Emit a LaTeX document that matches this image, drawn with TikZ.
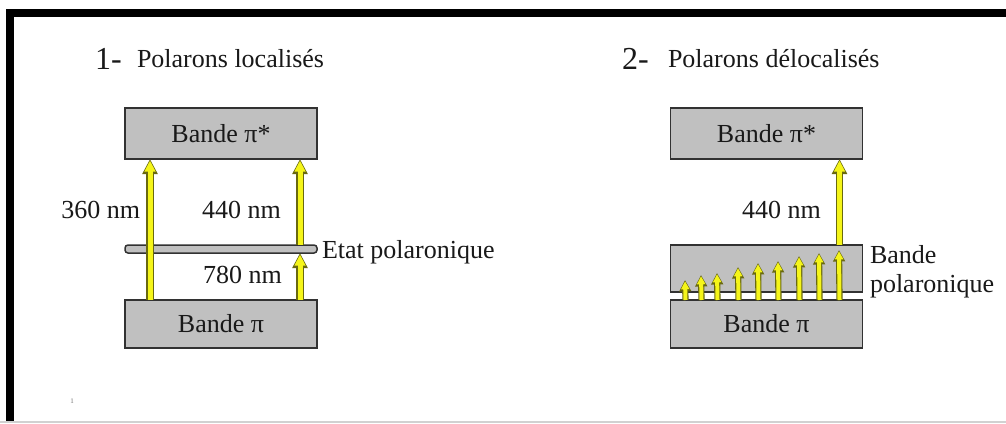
\documentclass[tikz,border=0pt]{standalone}
\usepackage{fontspec}
\setmainfont{Liberation Serif}
\usetikzlibrary{arrows.meta,calc}
\definecolor{boxfill}{RGB}{192,192,192}
\definecolor{boxedge}{RGB}{50,50,50}
\definecolor{ray}{RGB}{245,245,25}
\definecolor{rayedge}{RGB}{105,105,15}
\definecolor{ink}{RGB}{25,25,25}
\tikzset{
  txt/.style={inner sep=0pt, outer sep=0pt, text=ink, font=\fontsize{26}{30}\selectfont},
  bignum/.style={inner sep=0pt, outer sep=0pt, text=ink, font=\fontsize{32}{36}\selectfont},
  band/.style={draw=boxedge, fill=boxfill, line width=1.6pt, minimum width=192pt,
    inner sep=0pt, outer sep=0pt, text=ink, font=\fontsize{26}{30}\selectfont},
  levelbar/.style={draw=boxedge, fill=boxfill, line width=1.5pt, minimum width=192pt,
    minimum height=8pt, inner sep=0pt, outer sep=0pt, rounded corners=3pt},
  photon/.style={draw=ray, line width=5pt, -{Triangle[length=11pt,width=10.5pt]}, shorten >=1.6pt,
    preaction={draw=rayedge, line width=7.5pt, -{Triangle[length=15pt,width=14.5pt]}, shorten >=0pt}},
  photonsmall/.style={draw=ray, line width=4pt, -{Triangle[length=8pt,width=8pt]}, shorten >=1.3pt,
    preaction={draw=rayedge, line width=6.2pt, -{Triangle[length=11.5pt,width=11.5pt]}, shorten >=0pt}}
}
\begin{document}
\begin{tikzpicture}[x=1pt,y=-1pt]
\useasboundingbox (0,0) rectangle (1006,423);
\fill[white] (0,0) rectangle (1006,423);
% frame
\fill[black] (6,9) rectangle (1006,17);
\fill[black] (6,9) rectangle (14,421);
\fill[black!18] (0,421) rectangle (1006,423);

% titles
\node[bignum, anchor=base west] (n1) at (95,69) {1-};
\node[txt, anchor=base west] (t1) at (137,67) {Polarons localisés};
\node[bignum, anchor=base west] (n2) at (622,69) {2-};
\node[txt, anchor=base west] (t2) at (668,67) {Polarons délocalisés};

% left diagram
\node[band, minimum height=51pt] (topL) at (221,133.5) {Bande π*};
\node[band, minimum height=48pt] (botL) at (221,324) {Bande π};
\node[levelbar] (etat) at (221,249) {};

\draw[photon] ($(botL.north west)+(25,0)$) -- ($(topL.south west)+(25,0)$);
\draw[photon] ($(botL.north west)+(175,0)$) -- ($(etat.south west)+(175,0)$);
\draw[photon] ($(etat.north west)+(175,0)$) -- ($(topL.south west)+(175,0)$);

\node[txt, anchor=base east] (l360) at (140,218) {360 nm};
\node[txt, anchor=base west] (l440a) at (202,218) {440 nm};
\node[txt, anchor=base west] (l780) at (203,283) {780 nm};
\node[txt, anchor=base west] (letat) at (322,258) {Etat polaronique};

% right diagram
\node[band, minimum height=51pt] (topR) at (766.5,133.5) {Bande π*};
\node[band, minimum height=47pt] (polR) at (766.5,268.5) {};
\node[band, minimum height=48pt] (botR) at (766.5,324) {Bande π};

\draw[photon] ($(polR.north west)+(169,0)$) -- ($(topR.south west)+(169,0)$);
\foreach \i/\dx/\tip in {1/15/280,2/31/275,3/47/273,4/68/267,5/88/263,6/108/261,7/129/256,8/149/253,9/169/250}{
  \coordinate (h\i) at ($(botR.north west)+(\dx,0)$);
  \coordinate (e\i) at (670+\dx,\tip);
  \draw[photonsmall] (h\i) -- (e\i);
}

\node[txt, anchor=base west] (l440b) at (742,218) {440 nm};
\node[txt, anchor=base west] (lb1) at (870,263) {Bande};
\node[txt, anchor=base west] (lb2) at (870,292) {polaronique};

\node[inner sep=0pt, text=black!55, font=\fontsize{7}{8}\selectfont] (mark) at (72,401) {1};
\end{tikzpicture}
\end{document}
